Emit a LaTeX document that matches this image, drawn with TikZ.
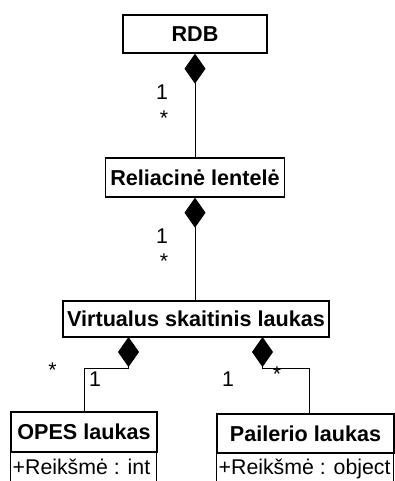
\documentclass[tikz,border=0pt]{standalone}
\usepackage{fontspec}
\setmainfont{Liberation Sans}
\usetikzlibrary{arrows.meta}
\begin{document}
\begin{tikzpicture}[x=1pt,y=-1pt,
  every node/.style={font=\fontsize{21.3}{25}\selectfont},
  cls/.style={draw, line width=1.4pt, inner sep=0pt, font=\fontsize{21.6}{25}\selectfont\bfseries},
  attr/.style={anchor=base west, inner sep=0pt},
  mult/.style={inner sep=0pt, anchor=base},
  comp/.style={line width=0.9pt, {Diamond[length=30pt,width=21pt]}-}
]
\useasboundingbox (0,0) rectangle (395,481);
\clip (0,0) rectangle (395,481);

% classes
\node[cls, minimum width=144pt, minimum height=38pt] (rdb) at (195,34) {RDB};
\node[cls, minimum width=179pt, minimum height=39pt] (rel) at (195,177.5) {Reliacinė lentelė};
\node[cls, minimum width=266pt, minimum height=36pt] (virt) at (196,319) {Virtualus skaitinis laukas};
\node[cls, minimum width=146pt, minimum height=40pt] (opes) at (84,432) {OPES laukas};
\node[cls, minimum width=177pt, minimum height=39pt] (pail) at (305.5,433.5) {Pailerio laukas};

% attribute compartments
\draw[line width=1.4pt] (opes.south west) rectangle ++(146,80);
\draw[line width=1.4pt] (pail.south west) rectangle ++(177,80);
\node[attr] (opesattr) at (12.5,474) {+Reikšmė : int};
\node[attr] (pailattr) at (218.5,474) {+Reikšmė : object};

% composition links
\draw[comp] (rdb.south) -- (rel.north);
\draw[comp] (rel.south) -- (rel.south |- virt.north);
\coordinate (jl) at (128.5,337);
\coordinate (jr) at (262.5,337);
\coordinate (pailtop) at (309,414);
\draw[comp] (jl) -- ++(0,31) -| (opes.north);
\draw[comp] (jr) -- ++(0,31) -| (pailtop);

% multiplicities
\node[mult] (m1a) at (162,100) {1};
\node[mult] (m1b) at (164,126) {*};
\node[mult] (m2a) at (162,243) {1};
\node[mult] (m2b) at (164,268) {*};
\node[mult] (m3a) at (52.5,377) {*};
\node[mult] (m3b) at (95,386) {1};
\node[mult] (m4a) at (228,386) {1};
\node[mult] (m4b) at (277,381) {*};
\end{tikzpicture}
\end{document}
